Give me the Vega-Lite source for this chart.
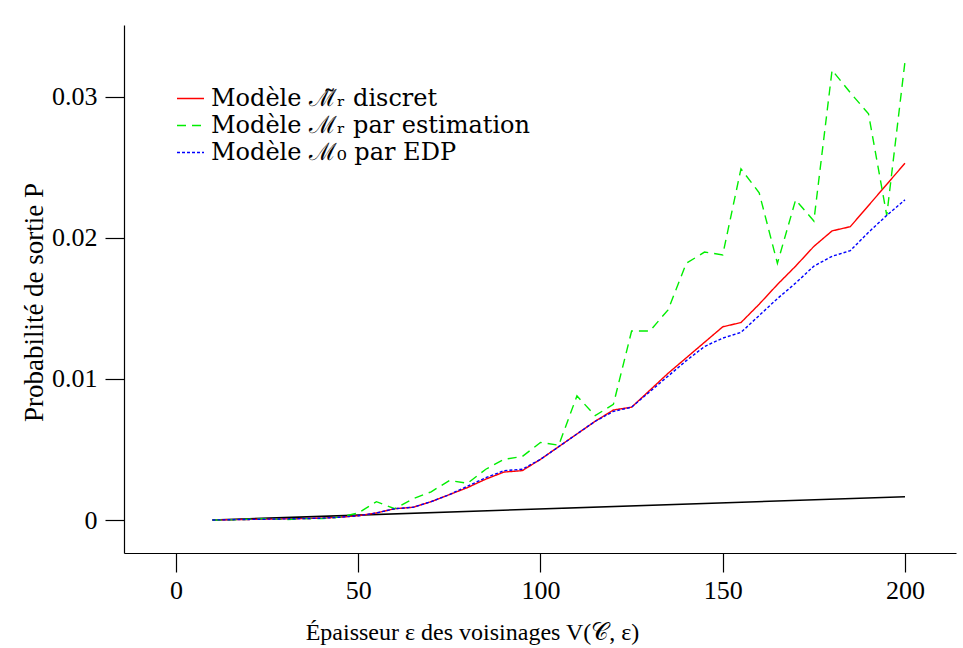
{
  "$schema": "https://vega.github.io/schema/vega-lite/v6.json",
  "width": 832,
  "height": 528,
  "autosize": {"type": "none"},
  "padding": {"left": 124, "top": 25, "right": 7, "bottom": 95},
  "background": "white",
  "config": {
    "view": {"stroke": null},
    "font": "Liberation Serif",
    "axis": {
      "grid": false,
      "domainColor": "black",
      "domainWidth": 1.2,
      "tickColor": "black",
      "tickWidth": 1.2,
      "tickSize": 19,
      "labelFont": "Liberation Serif",
      "labelFontSize": 26,
      "labelColor": "black",
      "titleFont": "Liberation Serif",
      "titleFontSize": 25,
      "titleFontWeight": "normal",
      "titleColor": "black"
    },
    "legend": {
      "labelFont": "DejaVu Serif",
      "labelFontSize": 24,
      "labelColor": "black",
      "labelLimit": 500
    }
  },
  "datasets": {
    "reference": [
      {"epaisseur": 10, "P": 0},
      {"epaisseur": 200, "P": 0.00165}
    ],
    "courbes": [
      {"epaisseur": 10, "P": 0, "modele": "Modèle ℳ̃ᵣ discret"},
      {"epaisseur": 15, "P": 0.00002, "modele": "Modèle ℳ̃ᵣ discret"},
      {"epaisseur": 20, "P": 0.00004, "modele": "Modèle ℳ̃ᵣ discret"},
      {"epaisseur": 25, "P": 0.00006, "modele": "Modèle ℳ̃ᵣ discret"},
      {"epaisseur": 30, "P": 0.00008, "modele": "Modèle ℳ̃ᵣ discret"},
      {"epaisseur": 35, "P": 0.0001, "modele": "Modèle ℳ̃ᵣ discret"},
      {"epaisseur": 40, "P": 0.00013, "modele": "Modèle ℳ̃ᵣ discret"},
      {"epaisseur": 45, "P": 0.0002, "modele": "Modèle ℳ̃ᵣ discret"},
      {"epaisseur": 50, "P": 0.0003, "modele": "Modèle ℳ̃ᵣ discret"},
      {"epaisseur": 55, "P": 0.0005, "modele": "Modèle ℳ̃ᵣ discret"},
      {"epaisseur": 60, "P": 0.0008, "modele": "Modèle ℳ̃ᵣ discret"},
      {"epaisseur": 65, "P": 0.0009, "modele": "Modèle ℳ̃ᵣ discret"},
      {"epaisseur": 70, "P": 0.0013, "modele": "Modèle ℳ̃ᵣ discret"},
      {"epaisseur": 75, "P": 0.0018, "modele": "Modèle ℳ̃ᵣ discret"},
      {"epaisseur": 80, "P": 0.0023, "modele": "Modèle ℳ̃ᵣ discret"},
      {"epaisseur": 85, "P": 0.0029, "modele": "Modèle ℳ̃ᵣ discret"},
      {"epaisseur": 90, "P": 0.0034, "modele": "Modèle ℳ̃ᵣ discret"},
      {"epaisseur": 95, "P": 0.0035, "modele": "Modèle ℳ̃ᵣ discret"},
      {"epaisseur": 100, "P": 0.0043, "modele": "Modèle ℳ̃ᵣ discret"},
      {"epaisseur": 105, "P": 0.0052, "modele": "Modèle ℳ̃ᵣ discret"},
      {"epaisseur": 110, "P": 0.0061, "modele": "Modèle ℳ̃ᵣ discret"},
      {"epaisseur": 115, "P": 0.0070, "modele": "Modèle ℳ̃ᵣ discret"},
      {"epaisseur": 120, "P": 0.0078, "modele": "Modèle ℳ̃ᵣ discret"},
      {"epaisseur": 125, "P": 0.0080, "modele": "Modèle ℳ̃ᵣ discret"},
      {"epaisseur": 130, "P": 0.0092, "modele": "Modèle ℳ̃ᵣ discret"},
      {"epaisseur": 135, "P": 0.0104, "modele": "Modèle ℳ̃ᵣ discret"},
      {"epaisseur": 140, "P": 0.0115, "modele": "Modèle ℳ̃ᵣ discret"},
      {"epaisseur": 145, "P": 0.0126, "modele": "Modèle ℳ̃ᵣ discret"},
      {"epaisseur": 150, "P": 0.0137, "modele": "Modèle ℳ̃ᵣ discret"},
      {"epaisseur": 155, "P": 0.0140, "modele": "Modèle ℳ̃ᵣ discret"},
      {"epaisseur": 160, "P": 0.0153, "modele": "Modèle ℳ̃ᵣ discret"},
      {"epaisseur": 165, "P": 0.0167, "modele": "Modèle ℳ̃ᵣ discret"},
      {"epaisseur": 170, "P": 0.0180, "modele": "Modèle ℳ̃ᵣ discret"},
      {"epaisseur": 175, "P": 0.0194, "modele": "Modèle ℳ̃ᵣ discret"},
      {"epaisseur": 180, "P": 0.0205, "modele": "Modèle ℳ̃ᵣ discret"},
      {"epaisseur": 185, "P": 0.0208, "modele": "Modèle ℳ̃ᵣ discret"},
      {"epaisseur": 190, "P": 0.0223, "modele": "Modèle ℳ̃ᵣ discret"},
      {"epaisseur": 195, "P": 0.0238, "modele": "Modèle ℳ̃ᵣ discret"},
      {"epaisseur": 200, "P": 0.0253, "modele": "Modèle ℳ̃ᵣ discret"},

      {"epaisseur": 10, "P": 0, "modele": "Modèle ℳᵣ par estimation"},
      {"epaisseur": 15, "P": 0.00001, "modele": "Modèle ℳᵣ par estimation"},
      {"epaisseur": 20, "P": 0.00005, "modele": "Modèle ℳᵣ par estimation"},
      {"epaisseur": 25, "P": 0.0001, "modele": "Modèle ℳᵣ par estimation"},
      {"epaisseur": 30, "P": 0.00003, "modele": "Modèle ℳᵣ par estimation"},
      {"epaisseur": 35, "P": 0.0001, "modele": "Modèle ℳᵣ par estimation"},
      {"epaisseur": 40, "P": 0.0001, "modele": "Modèle ℳᵣ par estimation"},
      {"epaisseur": 45, "P": 0.0002, "modele": "Modèle ℳᵣ par estimation"},
      {"epaisseur": 50, "P": 0.0005, "modele": "Modèle ℳᵣ par estimation"},
      {"epaisseur": 55, "P": 0.0013, "modele": "Modèle ℳᵣ par estimation"},
      {"epaisseur": 60, "P": 0.0008, "modele": "Modèle ℳᵣ par estimation"},
      {"epaisseur": 65, "P": 0.0015, "modele": "Modèle ℳᵣ par estimation"},
      {"epaisseur": 70, "P": 0.0020, "modele": "Modèle ℳᵣ par estimation"},
      {"epaisseur": 75, "P": 0.0028, "modele": "Modèle ℳᵣ par estimation"},
      {"epaisseur": 80, "P": 0.0026, "modele": "Modèle ℳᵣ par estimation"},
      {"epaisseur": 85, "P": 0.0036, "modele": "Modèle ℳᵣ par estimation"},
      {"epaisseur": 90, "P": 0.0043, "modele": "Modèle ℳᵣ par estimation"},
      {"epaisseur": 95, "P": 0.0045, "modele": "Modèle ℳᵣ par estimation"},
      {"epaisseur": 100, "P": 0.0055, "modele": "Modèle ℳᵣ par estimation"},
      {"epaisseur": 105, "P": 0.0053, "modele": "Modèle ℳᵣ par estimation"},
      {"epaisseur": 110, "P": 0.0088, "modele": "Modèle ℳᵣ par estimation"},
      {"epaisseur": 115, "P": 0.0074, "modele": "Modèle ℳᵣ par estimation"},
      {"epaisseur": 120, "P": 0.0082, "modele": "Modèle ℳᵣ par estimation"},
      {"epaisseur": 125, "P": 0.0134, "modele": "Modèle ℳᵣ par estimation"},
      {"epaisseur": 130, "P": 0.0134, "modele": "Modèle ℳᵣ par estimation"},
      {"epaisseur": 135, "P": 0.0149, "modele": "Modèle ℳᵣ par estimation"},
      {"epaisseur": 140, "P": 0.0182, "modele": "Modèle ℳᵣ par estimation"},
      {"epaisseur": 145, "P": 0.0190, "modele": "Modèle ℳᵣ par estimation"},
      {"epaisseur": 150, "P": 0.0188, "modele": "Modèle ℳᵣ par estimation"},
      {"epaisseur": 155, "P": 0.0249, "modele": "Modèle ℳᵣ par estimation"},
      {"epaisseur": 160, "P": 0.0232, "modele": "Modèle ℳᵣ par estimation"},
      {"epaisseur": 165, "P": 0.0182, "modele": "Modèle ℳᵣ par estimation"},
      {"epaisseur": 170, "P": 0.0227, "modele": "Modèle ℳᵣ par estimation"},
      {"epaisseur": 175, "P": 0.0212, "modele": "Modèle ℳᵣ par estimation"},
      {"epaisseur": 180, "P": 0.0319, "modele": "Modèle ℳᵣ par estimation"},
      {"epaisseur": 185, "P": 0.0303, "modele": "Modèle ℳᵣ par estimation"},
      {"epaisseur": 190, "P": 0.0288, "modele": "Modèle ℳᵣ par estimation"},
      {"epaisseur": 195, "P": 0.0216, "modele": "Modèle ℳᵣ par estimation"},
      {"epaisseur": 200, "P": 0.0325, "modele": "Modèle ℳᵣ par estimation"},

      {"epaisseur": 10, "P": 0, "modele": "Modèle ℳ₀ par EDP"},
      {"epaisseur": 15, "P": 0.00002, "modele": "Modèle ℳ₀ par EDP"},
      {"epaisseur": 20, "P": 0.00004, "modele": "Modèle ℳ₀ par EDP"},
      {"epaisseur": 25, "P": 0.00006, "modele": "Modèle ℳ₀ par EDP"},
      {"epaisseur": 30, "P": 0.00008, "modele": "Modèle ℳ₀ par EDP"},
      {"epaisseur": 35, "P": 0.0001, "modele": "Modèle ℳ₀ par EDP"},
      {"epaisseur": 40, "P": 0.00013, "modele": "Modèle ℳ₀ par EDP"},
      {"epaisseur": 45, "P": 0.0002, "modele": "Modèle ℳ₀ par EDP"},
      {"epaisseur": 50, "P": 0.0003, "modele": "Modèle ℳ₀ par EDP"},
      {"epaisseur": 55, "P": 0.0005, "modele": "Modèle ℳ₀ par EDP"},
      {"epaisseur": 60, "P": 0.0008, "modele": "Modèle ℳ₀ par EDP"},
      {"epaisseur": 65, "P": 0.0009, "modele": "Modèle ℳ₀ par EDP"},
      {"epaisseur": 70, "P": 0.0013, "modele": "Modèle ℳ₀ par EDP"},
      {"epaisseur": 75, "P": 0.0018, "modele": "Modèle ℳ₀ par EDP"},
      {"epaisseur": 80, "P": 0.0024, "modele": "Modèle ℳ₀ par EDP"},
      {"epaisseur": 85, "P": 0.0030, "modele": "Modèle ℳ₀ par EDP"},
      {"epaisseur": 90, "P": 0.0035, "modele": "Modèle ℳ₀ par EDP"},
      {"epaisseur": 95, "P": 0.0036, "modele": "Modèle ℳ₀ par EDP"},
      {"epaisseur": 100, "P": 0.0043, "modele": "Modèle ℳ₀ par EDP"},
      {"epaisseur": 105, "P": 0.0052, "modele": "Modèle ℳ₀ par EDP"},
      {"epaisseur": 110, "P": 0.0061, "modele": "Modèle ℳ₀ par EDP"},
      {"epaisseur": 115, "P": 0.0070, "modele": "Modèle ℳ₀ par EDP"},
      {"epaisseur": 120, "P": 0.0077, "modele": "Modèle ℳ₀ par EDP"},
      {"epaisseur": 125, "P": 0.0080, "modele": "Modèle ℳ₀ par EDP"},
      {"epaisseur": 130, "P": 0.0091, "modele": "Modèle ℳ₀ par EDP"},
      {"epaisseur": 135, "P": 0.0102, "modele": "Modèle ℳ₀ par EDP"},
      {"epaisseur": 140, "P": 0.0113, "modele": "Modèle ℳ₀ par EDP"},
      {"epaisseur": 145, "P": 0.0123, "modele": "Modèle ℳ₀ par EDP"},
      {"epaisseur": 150, "P": 0.0129, "modele": "Modèle ℳ₀ par EDP"},
      {"epaisseur": 155, "P": 0.0133, "modele": "Modèle ℳ₀ par EDP"},
      {"epaisseur": 160, "P": 0.0145, "modele": "Modèle ℳ₀ par EDP"},
      {"epaisseur": 165, "P": 0.0157, "modele": "Modèle ℳ₀ par EDP"},
      {"epaisseur": 170, "P": 0.0168, "modele": "Modèle ℳ₀ par EDP"},
      {"epaisseur": 175, "P": 0.0180, "modele": "Modèle ℳ₀ par EDP"},
      {"epaisseur": 180, "P": 0.0187, "modele": "Modèle ℳ₀ par EDP"},
      {"epaisseur": 185, "P": 0.0191, "modele": "Modèle ℳ₀ par EDP"},
      {"epaisseur": 190, "P": 0.0204, "modele": "Modèle ℳ₀ par EDP"},
      {"epaisseur": 195, "P": 0.0216, "modele": "Modèle ℳ₀ par EDP"},
      {"epaisseur": 200, "P": 0.0227, "modele": "Modèle ℳ₀ par EDP"}
    ]
  },
  "layer": [
    {
      "data": {"name": "reference"},
      "mark": {"type": "line", "color": "black", "strokeWidth": 1.6},
      "encoding": {
        "x": {"field": "epaisseur", "type": "quantitative", "scale": {"domain": [-14.27, 214.0], "nice": false, "zero": false}},
        "y": {"field": "P", "type": "quantitative", "scale": {"domain": [-0.00234, 0.0351], "nice": false, "zero": false}}
      }
    },
    {
      "data": {"name": "courbes"},
      "mark": {"type": "line", "strokeWidth": 1.4},
      "encoding": {
        "x": {
          "field": "epaisseur", "type": "quantitative",
          "scale": {"domain": [-14.27, 214.0], "nice": false, "zero": false},
          "axis": {
            "values": [0, 50, 100, 150, 200],
            "labelPadding": 5,
            "title": "Épaisseur ε des voisinages V(𝒞, ε)",
            "titleFontSize": 24,
            "titleX": 348,
            "titleY": 86,
            "titleBaseline": "alphabetic"
          }
        },
        "y": {
          "field": "P", "type": "quantitative",
          "scale": {"domain": [-0.00234, 0.0351], "nice": false, "zero": false},
          "axis": {
            "values": [0, 0.01, 0.02, 0.03],
            "format": ".2~f",
            "labelPadding": 8,
            "title": "Probabilité de sortie P",
            "titleFontSize": 27,
            "titleX": -82,
            "titleY": 277,
            "titleBaseline": "alphabetic"
          }
        },
        "color": {
          "field": "modele", "type": "nominal",
          "scale": {
            "domain": ["Modèle ℳ̃ᵣ discret", "Modèle ℳᵣ par estimation", "Modèle ℳ₀ par EDP"],
            "range": ["#ff0000", "#00ee00", "#0000ff"]
          },
          "legend": {
            "title": null,
            "orient": "none",
            "legendX": 52,
            "legendY": 59,
            "symbolType": "stroke",
            "symbolSize": 729,
            "symbolStrokeWidth": 1.4,
            "labelFont": "DejaVu Serif",
            "labelFontSize": 24,
            "labelOffset": 6,
            "rowPadding": 0,
            "padding": 0,
            "encode": {
              "labels": {"update": {"font": {"value": "DejaVu Serif"}, "fontSize": {"value": 24}}}
            }
          }
        },
        "strokeDash": {
          "field": "modele", "type": "nominal",
          "scale": {
            "domain": ["Modèle ℳ̃ᵣ discret", "Modèle ℳᵣ par estimation", "Modèle ℳ₀ par EDP"],
            "range": [[1, 0], [9, 6], [3, 2]]
          },
          "legend": null
        }
      }
    }
  ]
}
